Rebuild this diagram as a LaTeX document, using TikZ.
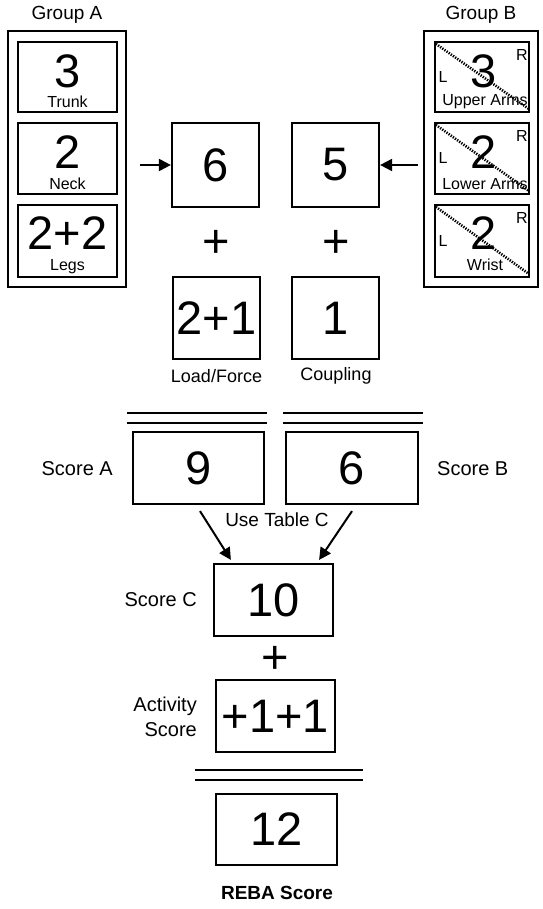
\documentclass[tikz,border=0pt]{standalone}
\usepackage{fontspec}
\setmainfont{Liberation Sans}
\usetikzlibrary{arrows.meta,calc}
\begin{document}
\begin{tikzpicture}[x=1pt,y=-1pt,
  box/.style={draw, line width=2.2pt, inner sep=0pt},
  big/.style={font=\fontsize{47}{50}\selectfont, inner sep=0pt},
  small/.style={font=\fontsize{16}{18}\selectfont, inner sep=0pt},
  lab/.style={font=\fontsize{20}{25}\selectfont, inner sep=0pt},
  dline/.style={line width=2.2pt},
  diag/.style={line width=2.6pt, dash pattern=on 1.3pt off 1.3pt},
  arr/.style={line width=2pt, -{Triangle[length=12pt,width=12pt]}}
]
\fill[white] (0,0) rectangle (542,909);
\useasboundingbox (0,0) rectangle (542,909);

% ---- Group A ----
\node[lab, font=\fontsize{19}{22}\selectfont] (gAl) at (67,15) {Group A};
\node[box, minimum width=118pt, minimum height=256pt] (grpA) at (67,159) {};
\node[box, minimum width=99pt, minimum height=70pt] (trunk) at (67.5,77) {};
\node[big] (trunkn) at (67.5,71) {3};
\node[small] (trunkl) at (67.5,102) {Trunk};
\node[box, minimum width=99pt, minimum height=71pt] (neck) at (67.5,158.5) {};
\node[big] (neckn) at (67.5,152) {2};
\node[small] (neckl) at (67.5,184) {Neck};
\node[box, minimum width=99pt, minimum height=72pt] (legs) at (67.5,241) {};
\node[big] (legsn) at (67.5,233) {2+2};
\node[small] (legsl) at (67.5,267) {Legs};

% ---- Group B ----
\node[lab, font=\fontsize{19}{22}\selectfont] (gBl) at (481,15) {Group B};
\node[box, minimum width=114pt, minimum height=256pt] (grpB) at (481,159) {};
% upper arms
\node[box, minimum width=94pt, minimum height=70pt] (uarm) at (482,77) {};
\node[big] (uarmn) at (484,71) {3};
\node[small] (uarml) at (485,102) {Upper Arms};
\node[small] (uarmL) at (443,77) {L};
\node[small] (uarmR) at (522,55) {R};
\draw[diag] ($(uarm.north west)+(2,3)$) -- ($(uarm.south east)+(-1,-4)$);
% lower arms
\node[box, minimum width=94pt, minimum height=71pt] (larm) at (482,158.5) {};
\node[big] (larmn) at (484,152) {2};
\node[small] (larml) at (485,184) {Lower Arms};
\node[small] (larmL) at (443,158) {L};
\node[small] (larmR) at (522,136) {R};
\draw[diag] ($(larm.north west)+(2,3)$) -- ($(larm.south east)+(-1,-4)$);
% wrist
\node[box, minimum width=94pt, minimum height=72pt] (wrist) at (482,241) {};
\node[big] (wristn) at (484,233) {2};
\node[small] (wristl) at (485,265) {Wrist};
\node[small] (wristL) at (443,241) {L};
\node[small] (wristR) at (522,218) {R};
\draw[diag] ($(wrist.north west)+(2,3)$) -- ($(wrist.south east)+(-1,-4)$);

% ---- middle ----
\node[box, minimum width=87pt, minimum height=84pt] (b6) at (215.5,165) {};
\node[big] (b6n) at (215.5,165) {6};
\node[box, minimum width=87pt, minimum height=84pt] (b5) at (335.5,165) {};
\node[big] (b5n) at (335.5,165) {5};
\coordinate (aS) at (140,165);
\coordinate (bS) at (418,165);
\draw[arr] (aS) -- (b6.west);
\draw[arr] (bS) -- (b5.east);
\node[big] (p1) at (216.5,244) {+};
\node[big] (p2) at (336.5,244) {+};
\node[box, minimum width=87pt, minimum height=82pt] (b21) at (216.5,318) {};
\node[big] (b21n) at (216.5,318) {2+1};
\node[box, minimum width=87pt, minimum height=82pt] (b1) at (335.5,318) {};
\node[big] (b1n) at (335.5,318) {1};
\node[lab, font=\fontsize{18}{22}\selectfont] (lf) at (216.5,376) {Load/Force};
\node[lab, font=\fontsize{18}{22}\selectfont] (cp) at (336,376) {Coupling};

% ---- scores A/B ----
\draw[dline] (127,413) -- (267,413);
\draw[dline] (127,423) -- (267,423);
\draw[dline] (283,413) -- (423,413);
\draw[dline] (283,423) -- (423,423);
\node[box, minimum width=131pt, minimum height=72pt] (sA) at (198.5,468) {};
\node[big] (sAn) at (198.5,468) {9};
\node[box, minimum width=132pt, minimum height=72pt] (sB) at (352,468) {};
\node[big] (sBn) at (352,468) {6};
\node[lab, anchor=east] (sAl) at (113,469) {Score A};
\node[lab, anchor=west] (sBl) at (437,469) {Score B};
\node[lab, font=\fontsize{19}{22}\selectfont] (utc) at (277,520) {Use Table C};

% ---- score C ----
\node[box, minimum width=119pt, minimum height=72pt] (sC) at (273.5,600) {};
\node[big] (sCn) at (273.5,600) {10};
\node[lab, anchor=east] (sCl) at (197,600) {Score C};
\draw[arr] ($(sA.south)+(1.5,6)$) -- ($(sC.north west)+(18,-3)$);
\draw[arr] ($(sB.south)+(0,6)$) -- ($(sC.north east)+(-15,-3)$);
\node[big] (p3) at (275,660) {+};

% ---- activity ----
\node[box, minimum width=119pt, minimum height=72pt] (act) at (275.5,716) {};
\node[big] (actn) at (275.5,716) {+1+1};
\node[lab, anchor=east, align=right] (actl) at (197,717) {Activity\\Score};

% ---- REBA ----
\draw[dline] (195,770) -- (363,770);
\draw[dline] (195,780) -- (363,780);
\node[box, minimum width=121pt, minimum height=71pt] (reba) at (276.5,829.5) {};
\node[big] (reban) at (276.5,829.5) {12};
\node[font=\fontsize{19}{22}\selectfont\bfseries, inner sep=0pt] (rebal) at (277,893) {REBA Score};
\end{tikzpicture}
\end{document}
